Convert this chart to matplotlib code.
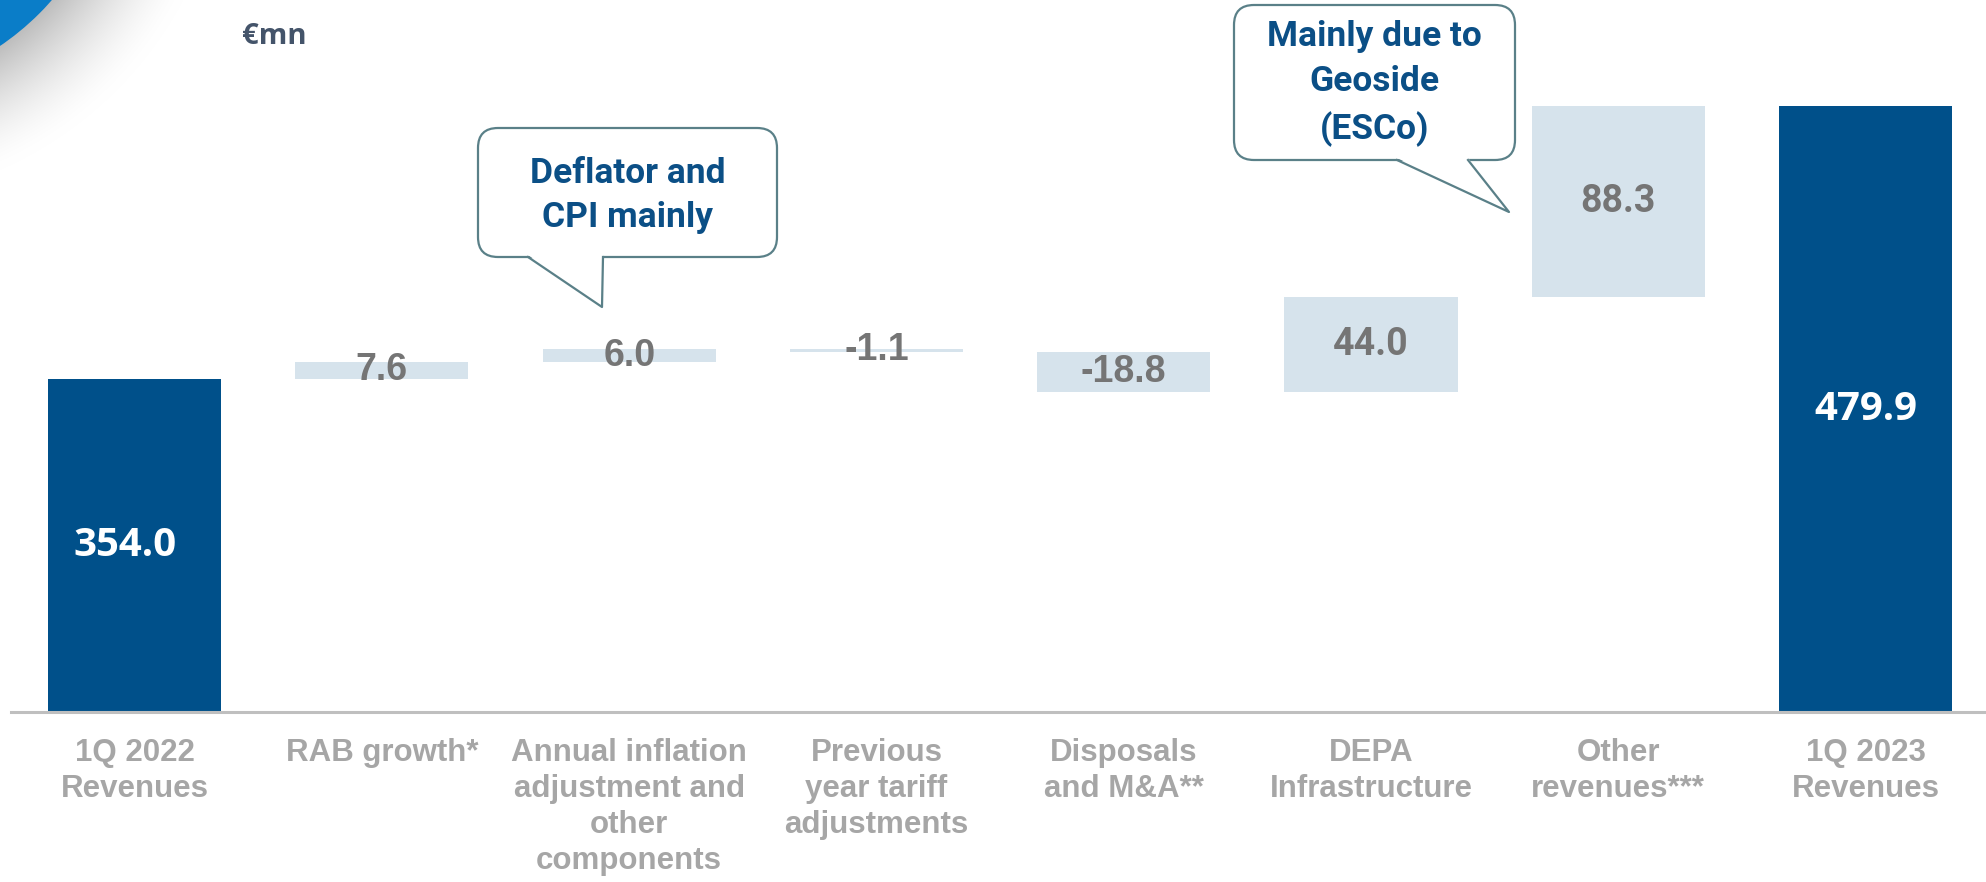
import matplotlib
matplotlib.use("Agg")
import matplotlib.pyplot as plt
import numpy as np
from matplotlib.lines import Line2D
from matplotlib.patches import Circle, FancyBboxPatch, Polygon

# data
categories = [
    "1Q 2022\nRevenues",
    "RAB growth*",
    "Annual inflation\nadjustment and\nother\ncomponents",
    "Previous\nyear tariff\nadjustments",
    "Disposals\nand M&A**",
    "DEPA\nInfrastructure",
    "Other\nrevenues***",
    "1Q 2023\nRevenues",
]
values = [354.0, 7.6, 6.0, -1.1, -18.8, 44.0, 88.3, 479.9]
is_total = [True, False, False, False, False, False, False, True]
value_labels = ["354.0", "7.6", "6.0", "-1.1", "-18.8", "44.0", "88.3", "479.9"]
callout_texts = ["Deflator and\nCPI mainly", "Mainly due to\nGeoside\n(ESCo)"]
unit_label = "€mn"

DARK = "#00508A"
LIGHT = "#D6E3EC"
VAL_GREY = "#757575"
CAT_GREY = "#A6A6A6"
CALLOUT_TXT = "#0B4F86"
CALLOUT_EDGE = "#5A8088"

W, H = 1986, 882
Y0, Y1 = 200.0, 528.9

fig = plt.figure(figsize=(W / 100, H / 100), dpi=100)
ax = fig.add_axes([11 / W, 170 / H, 1975 / W, 712 / H])

# waterfall geometry
bottoms, heights = [], []
running = 0.0
for v, tot in zip(values, is_total):
    if tot:
        bottoms.append(0.0)
        heights.append(v)
        running = v
    else:
        bottoms.append(running + min(v, 0))
        heights.append(abs(v))
        running += v

x = np.arange(len(values))
colors = [DARK if t else LIGHT for t in is_total]
ax.bar(x, heights, bottom=bottoms, width=0.70, color=colors, zorder=2)

for i, (b, h, lab, tot) in enumerate(zip(bottoms, heights, value_labels, is_total)):
    if tot:
        yc = (max(b, Y0) + b + h) / 2
        dx = -0.04 if i == 0 else 0.0
        ax.text(i + dx, yc, lab, ha="center", va="center", color="white",
                fontsize=29, fontweight="bold", family=["Open Sans", "DejaVu Sans"], zorder=3)
    else:
        fam = "Roboto" if h > 30 else "Liberation Sans"
        ax.text(i, b + h / 2, lab, ha="center", va="center", color=VAL_GREY,
                fontsize=27, fontweight="bold", family=[fam, "DejaVu Sans"], zorder=3)

ax.set_xlim(-0.5, 7.487)
ax.set_ylim(Y0, Y1)
ax.set_xticks(x)
ax.set_xticklabels(categories, fontsize=22.5, fontweight="bold", color=CAT_GREY,
                   family=["Liberation Sans", "DejaVu Sans"], linespacing=1.26)
ax.tick_params(axis="x", length=0, pad=18.5)
ax.set_yticks([])
for side in ["top", "left", "right"]:
    ax.spines[side].set_visible(False)
ax.spines["bottom"].set_color("#BFBFBF")
ax.spines["bottom"].set_linewidth(2.2)
ax.patch.set_alpha(0)

# overlay in pixel coordinates for decorations and callouts
ov = fig.add_axes([0, 0, 1, 1], zorder=5)
ov.axis("off")
ov.patch.set_alpha(0)

# corner swoosh with soft shadow
cx, cy, r = -152, -178, 270
gx, gy = np.meshgrid(np.arange(0, 240) + 0.5, np.arange(0, 240) + 0.5)
d = np.clip(np.hypot(gx - cx, gy - cy) - r, 0, None)
shade = 1 - 0.26 * np.clip(1 - d / 110, 0, 1) ** 1.6
img = np.dstack([shade, shade, shade])
ov.imshow(img, extent=[0, 240, 240, 0], zorder=0, interpolation="bilinear",
          aspect="auto")
ov.add_patch(Circle((cx, cy), r, color="#0A7DC8", zorder=1))
ov.set_xlim(0, W)
ov.set_ylim(H, 0)

ov.text(274, 36, unit_label, ha="center", va="center", fontsize=21,
        fontweight="bold", color="#44546A", family=["Open Sans", "DejaVu Sans"])


def callout(box, tail, text, dy=0):
    x0, y0, x1, y1 = box
    (bl, br, tip) = tail
    ov.add_patch(FancyBboxPatch((x0, y0), x1 - x0, y1 - y0,
                                boxstyle="round,pad=0,rounding_size=20",
                                facecolor="white", edgecolor=CALLOUT_EDGE,
                                linewidth=1.6, zorder=2))
    ov.add_patch(Polygon([(bl, y1 - 2), tip, (br, y1 - 2)], closed=True,
                         facecolor="white", edgecolor="none", zorder=3))
    ov.add_line(Line2D([bl, tip[0], br], [y1, tip[1], y1], color=CALLOUT_EDGE,
                       linewidth=1.6, zorder=4))
    ov.text((x0 + x1) / 2, (y0 + y1) / 2 + dy, text, ha="center", va="center",
            fontsize=25.5, fontweight="bold", color=CALLOUT_TXT,
            family=["Roboto", "DejaVu Sans"], linespacing=1.46, zorder=5)


callout((478, 128, 777, 257), (528, 603, (602, 307)), callout_texts[0], dy=3)
callout((1234, 5, 1515, 160), (1397, 1468, (1509, 212)), callout_texts[1], dy=1)

fig.savefig("out.png", dpi=100)
